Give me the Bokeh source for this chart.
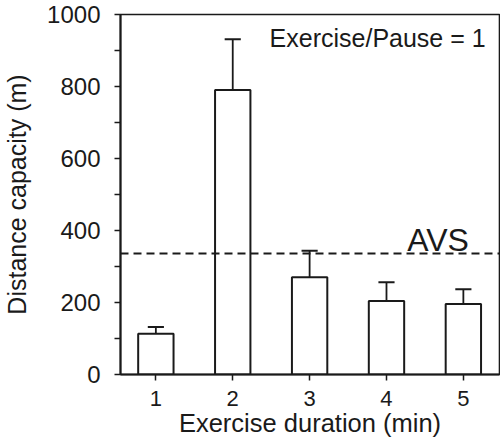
from bokeh.plotting import figure
from bokeh.models import ColumnDataSource, Span, Label, FixedTicker
from bokeh.embed import file_html
from bokeh.resources import INLINE

# ---- data ----
durations = [1, 2, 3, 4, 5]
distance_mean = [113, 790, 270, 204, 196]
distance_err = [19, 141, 74, 52, 41]
avs_level = 336
x_ticks = [1, 2, 3, 4, 5]
y_ticks = [0, 200, 400, 600, 800, 1000]
y_minor_ticks = [100, 300, 500, 700, 900]

FONT = "Liberation Sans"
INK = "#1a1a1a"

bar_w = 0.46
cap_half = 0.105

src = ColumnDataSource(dict(
    x=durations,
    top=distance_mean,
    up=[m + e for m, e in zip(distance_mean, distance_err)],
    cx0=[d - cap_half for d in durations],
    cx1=[d + cap_half for d in durations],
))

p = figure(width=500, height=445, output_backend="svg", toolbar_location=None,
           x_range=(0.54, 5.47), y_range=(0, 1000),
           min_border_left=119, min_border_right=1, min_border_top=14,
           min_border_bottom=71)
p.background_fill_color = "white"
p.border_fill_color = "white"
p.outline_line_color = INK
p.outline_line_width = 1.6
p.grid.visible = False

# bars
p.vbar(x="x", top="top", bottom=0, width=bar_w, source=src,
       fill_color="white", line_color=INK, line_width=2)
# error bars (upper only)
p.segment(x0="x", y0="top", x1="x", y1="up", source=src,
          line_color=INK, line_width=1.8)
p.segment(x0="cx0", y0="up", x1="cx1", y1="up", source=src,
          line_color=INK, line_width=2)

# AVS dashed line
p.add_layout(Span(location=avs_level, dimension="width", line_color=INK,
                  line_width=2, line_dash="8 5"))
p.add_layout(Label(x=4.27, y=375, text="AVS", text_font=FONT,
                   text_font_size="32px", text_color=INK,
                   text_baseline="alphabetic"))
p.add_layout(Label(x=5.29, y=935, text="Exercise/Pause = 1", text_font=FONT,
                   text_font_size="25px", text_color=INK, text_align="right",
                   text_baseline="alphabetic"))

# axes
xa = p.xaxis[0]
xa.ticker = FixedTicker(ticks=x_ticks)
xa.axis_label = "Exercise duration (min)"
xa.axis_label_text_font = FONT
xa.axis_label_text_font_size = "25.5px"
xa.axis_label_text_font_style = "normal"
xa.axis_label_text_color = INK
xa.axis_label_standoff = 0
xa.major_label_text_font = FONT
xa.major_label_text_font_size = "22px"
xa.major_label_text_color = INK
xa.major_label_standoff = 10
xa.axis_line_color = INK
xa.axis_line_width = 2
xa.major_tick_line_color = INK
xa.major_tick_line_width = 1.5
xa.major_tick_out = 6
xa.major_tick_in = 0
xa.minor_tick_line_color = None

ya = p.yaxis[0]
ya.ticker = FixedTicker(ticks=y_ticks, minor_ticks=y_minor_ticks)
ya.axis_label = "Distance capacity (m)"
ya.axis_label_text_font = FONT
ya.axis_label_text_font_size = "25px"
ya.axis_label_text_font_style = "normal"
ya.axis_label_text_color = INK
ya.axis_label_standoff = 13
ya.major_label_text_font = FONT
ya.major_label_text_font_size = "24px"
ya.major_label_text_color = INK
ya.major_label_standoff = 14
ya.axis_line_color = INK
ya.axis_line_width = 2
ya.major_tick_line_color = INK
ya.major_tick_line_width = 1.5
ya.major_tick_out = 6
ya.major_tick_in = 0
ya.minor_tick_line_color = INK
ya.minor_tick_line_width = 1.5
ya.minor_tick_out = 6
ya.minor_tick_in = 0

open("out.html", "w").write(file_html(p, INLINE))
